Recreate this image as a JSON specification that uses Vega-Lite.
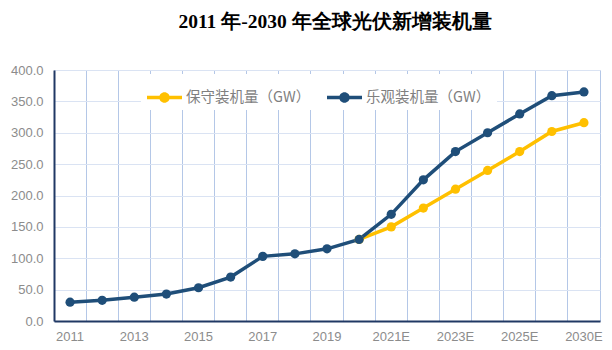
{
  "$schema": "https://vega.github.io/schema/vega-lite/v6.json",
  "width": 546,
  "height": 251,
  "autosize": "none",
  "padding": {"left": 54, "top": 70, "right": 12, "bottom": 29},
  "background": "white",
  "title": {
    "text": "2011 年-2030 年全球光伏新增装机量",
    "font": "Liberation Serif",
    "fontSize": 19.5,
    "fontWeight": "bold",
    "color": "#000000",
    "anchor": "middle",
    "dx": 8,
    "offset": 32
  },
  "config": {
    "view": {"stroke": "#b4c7e7", "strokeWidth": 1}
  },
  "data": {
    "values": [
      {"year": "2020", "series": "保守装机量（GW）", "value": 130},
      {"year": "2021E", "series": "保守装机量（GW）", "value": 150},
      {"year": "2022E", "series": "保守装机量（GW）", "value": 180},
      {"year": "2023E", "series": "保守装机量（GW）", "value": 210},
      {"year": "2024E", "series": "保守装机量（GW）", "value": 240},
      {"year": "2025E", "series": "保守装机量（GW）", "value": 270},
      {"year": "2026E", "series": "保守装机量（GW）", "value": 302},
      {"year": "2030E", "series": "保守装机量（GW）", "value": 316},
      {"year": "2011", "series": "乐观装机量（GW）", "value": 30},
      {"year": "2012", "series": "乐观装机量（GW）", "value": 33},
      {"year": "2013", "series": "乐观装机量（GW）", "value": 38},
      {"year": "2014", "series": "乐观装机量（GW）", "value": 43},
      {"year": "2015", "series": "乐观装机量（GW）", "value": 53},
      {"year": "2016", "series": "乐观装机量（GW）", "value": 70},
      {"year": "2017", "series": "乐观装机量（GW）", "value": 103},
      {"year": "2018", "series": "乐观装机量（GW）", "value": 107},
      {"year": "2019", "series": "乐观装机量（GW）", "value": 115},
      {"year": "2020", "series": "乐观装机量（GW）", "value": 130},
      {"year": "2021E", "series": "乐观装机量（GW）", "value": 170},
      {"year": "2022E", "series": "乐观装机量（GW）", "value": 225},
      {"year": "2023E", "series": "乐观装机量（GW）", "value": 270},
      {"year": "2024E", "series": "乐观装机量（GW）", "value": 300},
      {"year": "2025E", "series": "乐观装机量（GW）", "value": 330},
      {"year": "2026E", "series": "乐观装机量（GW）", "value": 359},
      {"year": "2030E", "series": "乐观装机量（GW）", "value": 365}
    ]
  },
  "encoding": {
    "x": {
      "field": "year",
      "type": "ordinal",
      "sort": ["2011","2012","2013","2014","2015","2016","2017","2018","2019","2020","2021E","2022E","2023E","2024E","2025E","2026E","2030E"],
      "scale": {"type": "band", "paddingInner": 0, "paddingOuter": 0},
      "axis": {
        "title": null,
        "labelAngle": 0,
        "grid": true,
        "bandPosition": 0,
        "gridColor": "#b4c7e7",
        "gridWidth": 1,
        "ticks": false,
        "domainColor": "#203864",
        "domainWidth": 2,
        "labelFont": "Liberation Sans",
        "labelFontSize": 13,
        "labelColor": "#8c8c8c",
        "labelPadding": 9,
        "labelExpr": "indexof(['2011','2013','2015','2017','2019','2021E','2023E','2025E','2030E'], datum.value) >= 0 ? datum.value : ''"
      }
    },
    "y": {
      "field": "value",
      "type": "quantitative",
      "scale": {"domain": [0, 400], "nice": false},
      "axis": {
        "title": null,
        "values": [0, 50, 100, 150, 200, 250, 300, 350, 400],
        "format": ".1f",
        "grid": true,
        "gridColor": "#dae3f3",
        "gridWidth": 1,
        "ticks": false,
        "domainColor": "#203864",
        "domainWidth": 2,
        "labelFont": "Liberation Sans",
        "labelFontSize": 13,
        "labelColor": "#8c8c8c",
        "labelPadding": 11
      }
    },
    "color": {
      "field": "series",
      "type": "nominal",
      "sort": ["保守装机量（GW）", "乐观装机量（GW）"],
      "scale": {"domain": ["保守装机量（GW）", "乐观装机量（GW）"], "range": ["#FFC000", "#1F4E79"]},
      "legend": {
        "title": null,
        "orient": "none",
        "legendX": 87,
        "legendY": 4,
        "direction": "horizontal",
        "fillColor": "white",
        "padding": 6,
        "columnPadding": 16,
        "labelFont": "Noto Sans CJK SC",
        "labelFontSize": 14.5,
        "labelColor": "#7f7f7f",
        "labelOffset": 4,
        "symbolType": "M-1,-0.1L1,-0.1L1,0.1L-1,0.1Z M0.3,0A0.3,0.3,0,1,1,-0.3,0A0.3,0.3,0,1,1,0.3,0Z",
        "symbolSize": 1225,
        "symbolStrokeWidth": 0,
        "encode": {
          "symbols": {
            "update": {
              "fill": {"scale": "color", "field": "value"},
              "strokeWidth": {"value": 0}
            }
          }
        }
      }
    }
  },
  "layer": [
    {"mark": {"type": "line", "strokeWidth": 3.5}},
    {"mark": {"type": "point", "filled": true, "opacity": 1, "size": 85, "shape": "circle"}}
  ]
}
